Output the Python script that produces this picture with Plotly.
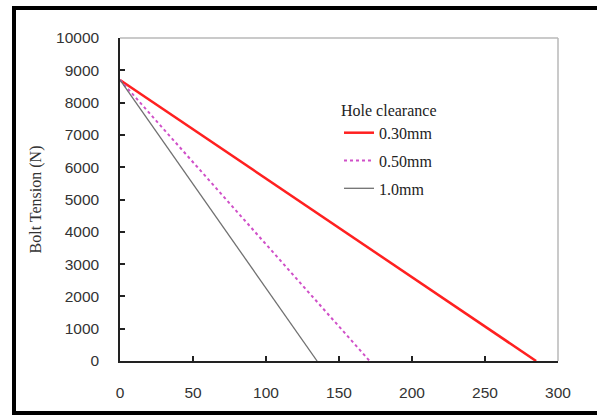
import plotly.graph_objects as go

series_names = ["0.30mm", "0.50mm", "1.0mm"]
x_030 = [0, 285]
y_030 = [8700, 0]
x_050 = [0, 171]
y_050 = [8700, 0]
x_100 = [0, 135]
y_100 = [8700, 0]
x_ticks = [0, 50, 100, 150, 200, 250, 300]
y_ticks = [0, 1000, 2000, 3000, 4000, 5000, 6000, 7000, 8000, 9000, 10000]
y_tick_labels = [str(v) for v in y_ticks]

L, R, T, B = 120, 39, 38, 55
W, H = 597, 416
pw, ph = W - L - R, H - T - B

def px(xp):
    return (xp - L) / pw

def py(yp):
    return (H - B - yp) / ph

fig = go.Figure()
fig.add_trace(go.Scatter(x=x_030, y=y_030, mode="lines", name=series_names[0],
                         line=dict(color="#ff2020", width=2.5), legendgroup="a"))
fig.add_trace(go.Scatter(x=x_050, y=y_050, mode="lines", name=series_names[1],
                         line=dict(color="#d050c8", width=2, dash="dot"), legendgroup="b"))
fig.add_trace(go.Scatter(x=x_100, y=y_100, mode="lines", name=series_names[2],
                         line=dict(color="#707070", width=1.3), legendgroup="c"))

shapes = [
    dict(type="line", xref="paper", yref="paper", x0=0, x1=1, y0=1, y1=1,
         line=dict(color="#b8b8b8", width=1.5)),
    dict(type="line", xref="paper", yref="paper", x0=1, x1=1, y0=0, y1=1,
         line=dict(color="#b8b8b8", width=1.5)),
    dict(type="line", xref="paper", yref="paper", x0=px(12), x1=px(620), y0=py(8), y1=py(8),
         line=dict(color="black", width=4)),
    dict(type="line", xref="paper", yref="paper", x0=px(14), x1=px(14), y0=py(6), y1=py(415),
         line=dict(color="black", width=4)),
    dict(type="line", xref="paper", yref="paper", x0=px(12), x1=px(620), y0=py(413), y1=py(413),
         line=dict(color="black", width=4)),
]

fig.update_layout(
    width=W, height=H,
    margin=dict(l=L, r=R, t=T, b=B, autoexpand=False),
    paper_bgcolor="white", plot_bgcolor="white",
    shapes=shapes,
    showlegend=True,
    legend=dict(
        title=dict(text="Hole clearance", font=dict(family="Liberation Serif", size=16, color="#222")),
        font=dict(family="Liberation Serif", size=16, color="#222"),
        x=px(339), y=py(95), xanchor="left", yanchor="top",
        bgcolor="rgba(0,0,0,0)", tracegroupgap=4,
    ),
    xaxis=dict(
        range=[0, 300], tickvals=x_ticks, ticks="inside", ticklen=5, tickwidth=1.5,
        tickcolor="#222", showline=True, linecolor="#222", linewidth=1.5,
        showgrid=False, zeroline=False, ticklabelstandoff=17, automargin=False,
        tickfont=dict(family="Liberation Sans", size=15.5, color="#333"),
    ),
    yaxis=dict(
        range=[0, 10000], tickvals=y_ticks, ticktext=y_tick_labels, ticks="inside", ticklen=5,
        tickwidth=1.5, tickcolor="#222", showline=True, linecolor="#222", linewidth=1.5,
        showgrid=False, zeroline=False, ticklabelstandoff=16, automargin=False,
        tickfont=dict(family="Liberation Sans", size=15.5, color="#333"),
        title=dict(text="Bolt Tension (N)", standoff=10,
                   font=dict(family="Liberation Serif", size=16, color="#333")),
    ),
)

fig.write_html(
    "out.html", config={"displayModeBar": False},
    post_script=("document.body.style.margin='0px';"
                 "document.body.style.overflow='hidden';"
                 "document.documentElement.style.overflow='hidden';"),
)
